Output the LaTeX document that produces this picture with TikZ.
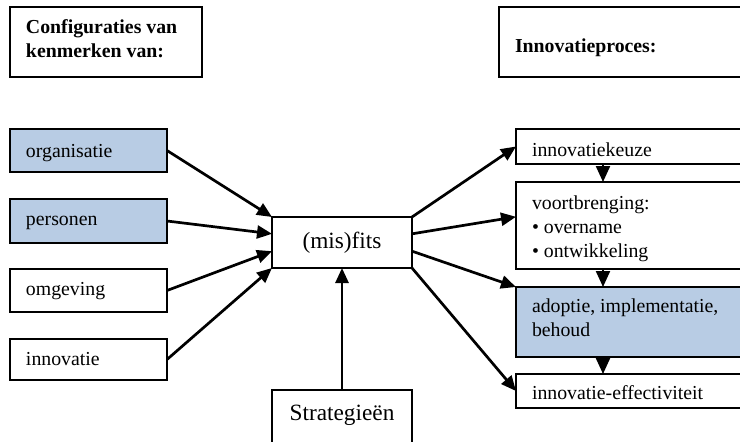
\documentclass[tikz,border=0pt]{standalone}
\usepackage{fontspec}
\setmainfont{Liberation Serif}
\usetikzlibrary{arrows.meta,calc}
\definecolor{boxblue}{HTML}{B8CCE4}
\newcommand\bxt[4]{\parbox[c][#2][t]{#1}{\raggedright\rule{0pt}{#3}#4}}
\newcommand\bxc[4]{\parbox[c][#2][t]{#1}{\centering\rule{0pt}{#3}#4}}
\begin{document}
\begin{tikzpicture}[x=1pt,y=-1pt,
 every node/.style={font=\fontsize{19.8pt}{24pt}\selectfont},
 box/.style={draw, line width=2.2pt, anchor=north west, inner xsep=16pt, inner ysep=0pt, outer sep=0pt},
 shaded/.style={fill=boxblue},
 bigfont/.style={font=\fontsize{23.3pt}{28pt}\selectfont},
 arr/.style={line width=2.7pt, -{Triangle[length=15pt,width=13pt]}},
 varr/.style={line width=2.2pt, -{Triangle[length=16pt,width=14pt]}}]
\useasboundingbox (0,0) rectangle (740,442);
\clip (0,0) rectangle (740,442);
\fill[white] (0,0) rectangle (740,442);

% headers
\node[box] (hdl) at (10,7) {\bxt{160pt}{70pt}{26pt}{\bfseries Configuraties van\\ kenmerken van:}};
\node[box] (hdr) at (499,7) {\bxt{228pt}{70pt}{45pt}{\bfseries Innovatieproces:}};

% left boxes
\node[box,shaded] (org) at (10,129) {\bxt{125pt}{43pt}{28pt}{organisatie}};
\node[box,shaded] (pers) at (10,199) {\bxt{125pt}{44pt}{26pt}{personen}};
\node[box] (omg) at (10,269) {\bxt{125pt}{43pt}{26pt}{omgeving}};
\node[box] (inn) at (10,339) {\bxt{125pt}{41pt}{26pt}{innovatie}};

% centre
\node[draw, line width=2.2pt, anchor=north west, minimum width=140pt, minimum height=51pt,
      inner sep=0pt, outer sep=0pt, bigfont] (mis) at (272,217) {(mis)fits};
\node[box, inner xsep=0pt, bigfont] (strat) at (272,390) {\bxc{140pt}{70pt}{30pt}{Strategieën}};

% right boxes
\node[box] (ik) at (516,129) {\bxt{228pt}{35pt}{27pt}{innovatiekeuze}};
\node[box] (vb) at (516,182) {\bxt{228pt}{87pt}{27pt}{voortbrenging:\\ • overname\\ • ontwikkeling}};
\node[box,shaded] (ad) at (516,287) {\bxt{228pt}{70pt}{25pt}{adoptie, implementatie,\\ behoud}};
\node[box] (eff) at (516,374) {\bxt{228pt}{34pt}{25pt}{innovatie-effectiviteit}};

% arrows into (mis)fits
\draw[arr] (org.east) -- (mis.north west);
\draw[arr] (pers.east) -- ($(mis.north west)!0.33!(mis.south west)$);
\draw[arr] (omg.east) -- ($(mis.north west)!0.67!(mis.south west)$);
\draw[arr] (inn.east) -- (mis.south west);
\draw[arr] (strat.north) -- (mis.south);

% arrows out of (mis)fits
\draw[arr] (mis.north east) -- (ik.west);
\draw[arr] ($(mis.north east)!0.33!(mis.south east)$) -- ($(vb.north west)!0.4!(vb.south west)$);
\draw[arr] ($(mis.north east)!0.67!(mis.south east)$) -- (ad.north west);
\draw[arr] (mis.south east) -- (eff.west);

% process arrows
\draw[varr] ([xshift=87pt]ik.south west) -- ([xshift=87pt]vb.north west);
\draw[varr] ([xshift=87pt]vb.south west) -- ([xshift=87pt]ad.north west);
\draw[varr] ([xshift=87pt]ad.south west) -- ([xshift=87pt]eff.north west);
\end{tikzpicture}
\end{document}
